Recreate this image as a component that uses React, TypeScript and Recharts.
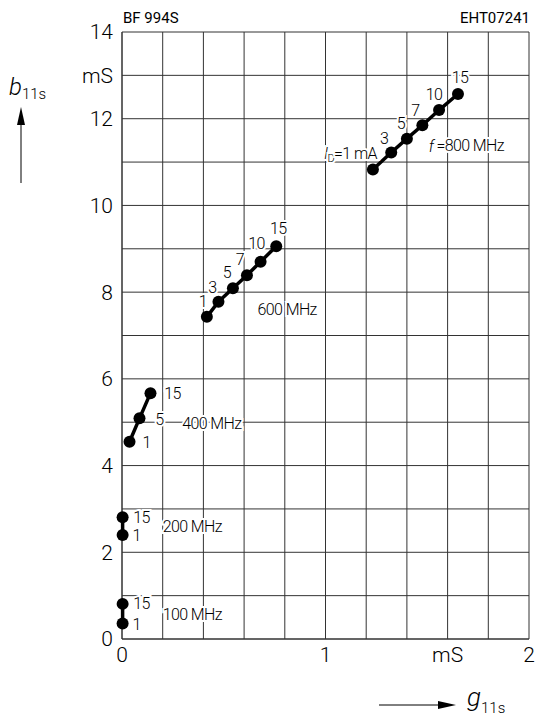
import React from 'react';
import { ScatterChart, Scatter, XAxis, YAxis, CartesianGrid } from 'recharts';

// g11s (mS) / b11s (mS), one set per frequency; ID labels in mA
const f100G = [0.003, 0.003];
const f100B = [0.36, 0.81];
const f100Id = ['1', '15'];

const f200G = [0.003, 0.003];
const f200B = [2.4, 2.81];
const f200Id = ['1', '15'];

const f400G = [0.037, 0.086, 0.14];
const f400B = [4.55, 5.09, 5.67];
const f400Id = ['1', '5', '15'];

const f600G = [0.417, 0.474, 0.545, 0.614, 0.681, 0.758];
const f600B = [7.43, 7.78, 8.09, 8.39, 8.7, 9.06];
const f600Id = ['1', '3', '5', '7', '10', '15'];

const f800G = [1.233, 1.323, 1.4, 1.476, 1.558, 1.651];
const f800B = [10.83, 11.22, 11.54, 11.85, 12.2, 12.57];
const f800Id = ['1', '3', '5', '7', '10', '15'];

// frequency captions, placed at (g, b)
const freqText = ['100 MHz', '200 MHz', '400 MHz', '600 MHz', '800 MHz'];
const freqG = [0.2, 0.2, 0.296, 0.666, 1.507];
const freqB = [0.56, 2.59, 4.97, 7.6, 11.38];

const xTicks = [0, 0.2, 0.4, 0.6, 0.8, 1, 1.2, 1.4, 1.6, 1.8, 2];
const yTicks = [0, 1, 2, 3, 4, 5, 6, 7, 8, 9, 10, 11, 12, 13, 14];

// label offsets (px) next to each point
const off100 = [[14, 1], [19, 0]];
const off200 = [[14, 1], [19, 0]];
const off400 = [[17, 1], [20, 1], [22, 0]];
const off600 = [[-4, -15], [-6, -14], [-6, -16], [-7, -16], [-4, -18], [2, -18]];
const off800 = [[-7, -14], [-7, -14], [-6, -15], [-7, -15], [-5, -16], [2, -17]];

const build = (g: number[], b: number[], id: string[]) =>
  g.map((v, i) => ({ g: v, b: b[i], id: id[i], i }));

const LABEL_FONT = 'Roboto, "Liberation Sans", sans-serif';
const TICK_FONT = 'Roboto, "Liberation Sans", sans-serif';

const halo = { stroke: '#fff', strokeWidth: 4, paintOrder: 'stroke' as const };
const labelText = { fontSize: 16, fontFamily: LABEL_FONT, fontWeight: 300, letterSpacing: -0.6, fill: '#000' };

const makeDot = (offsets: number[][], withId = false) => (props: any) => {
  const { cx, cy, payload } = props;
  const [dx, dy] = offsets[payload.i] || [0, 0];
  const first = withId && payload.i === 0;
  return (
    <g>
      <circle cx={cx} cy={cy} r={6} fill="#000" />
      {first ? (
        <text x={cx + 4} y={cy - 16} textAnchor="end" dominantBaseline="central" {...labelText} {...halo}>
          <tspan fontStyle="italic">I</tspan>
          <tspan fontSize={11} dy={5}>D</tspan>
          <tspan dy={-5}>=1 mA</tspan>
        </text>
      ) : (
        <text x={cx + dx} y={cy + dy} textAnchor="middle" dominantBaseline="central" {...labelText} {...halo}>
          {payload.id}
        </text>
      )}
    </g>
  );
};

const FreqLabel = (props: any) => {
  const { cx, cy, payload } = props;
  const is800 = payload.t === '800 MHz';
  return (
    <text x={cx} y={cy} dominantBaseline="central" {...labelText} {...halo}>
      {is800 && <tspan fontStyle="italic">f </tspan>}
      {is800 ? '=' + payload.t : payload.t}
    </text>
  );
};

const xFmt = (v: number) => (v === 0 ? '0' : v === 1 ? '1' : v === 1.6 ? 'mS' : v === 2 ? '2' : '');
const yFmt = (v: number) => (v === 13 ? 'mS' : v % 2 === 0 ? String(v) : '');

const lineStyle = { stroke: '#000', strokeWidth: 3.5 };

export default function App() {
  const freqData = freqText.map((t, i) => ({ g: freqG[i], b: freqB[i], t }));
  const tickStyle = { fontSize: 21, fontFamily: TICK_FONT, fontWeight: 300, fill: '#000' };

  return (
    <div style={{ position: 'relative', width: 538, height: 728, background: '#fff' }}>
      <style>{'body{margin:0}'}</style>
      <ScatterChart width={538} height={728} margin={{ top: 32, right: 9, left: 62, bottom: 59 }}>
        <CartesianGrid stroke="#333" strokeWidth={1} />
        <XAxis
          type="number"
          dataKey="g"
          domain={[0, 2]}
          ticks={xTicks}
          interval={0}
          tickFormatter={xFmt}
          tickLine={false}
          tickSize={0}
          tickMargin={8}
          height={30}
          axisLine={{ stroke: '#333' }}
          tick={tickStyle}
        />
        <YAxis
          type="number"
          dataKey="b"
          domain={[0, 14]}
          ticks={yTicks}
          interval={0}
          tickFormatter={yFmt}
          tickLine={false}
          tickSize={0}
          tickMargin={9}
          width={60}
          axisLine={{ stroke: '#333' }}
          tick={tickStyle}
        />
        <Scatter data={build(f100G, f100B, f100Id)} line={lineStyle} lineType="joint" shape={makeDot(off100)} isAnimationActive={false} />
        <Scatter data={build(f200G, f200B, f200Id)} line={lineStyle} lineType="joint" shape={makeDot(off200)} isAnimationActive={false} />
        <Scatter data={build(f400G, f400B, f400Id)} line={lineStyle} lineType="joint" shape={makeDot(off400)} isAnimationActive={false} />
        <Scatter data={build(f600G, f600B, f600Id)} line={lineStyle} lineType="joint" shape={makeDot(off600)} isAnimationActive={false} />
        <Scatter data={build(f800G, f800B, f800Id)} line={lineStyle} lineType="joint" shape={makeDot(off800, true)} isAnimationActive={false} />
        <Scatter data={freqData} shape={FreqLabel} isAnimationActive={false} />
      </ScatterChart>

      <svg width={538} height={728} style={{ position: 'absolute', left: 0, top: 0, pointerEvents: 'none' }}>
        <text x={123} y={18} dominantBaseline="central" fontSize={15} fontFamily={LABEL_FONT}>BF  994S</text>
        <text x={530} y={18} textAnchor="end" dominantBaseline="central" fontSize={15} fontFamily={LABEL_FONT}>EHT07241</text>

        {/* y axis name with arrow */}
        <text x={9} y={95} fontSize={24} fontFamily={TICK_FONT} fontWeight={300}>
          <tspan fontStyle="italic">b</tspan>
          <tspan fontSize={15} dy={4}>11s</tspan>
        </text>
        <line x1={21} y1={183} x2={21} y2={120} stroke="#000" strokeWidth={1} />
        <polygon points="21,107 17,125 25,125" fill="#000" />

        {/* x axis name with arrow */}
        <line x1={379} y1={705} x2={442} y2={705} stroke="#000" strokeWidth={1} />
        <polygon points="456,705 438,701 438,709" fill="#000" />
        <text x={467} y={706} fontSize={26} fontFamily={TICK_FONT} fontWeight={300}>
          <tspan fontStyle="italic">g</tspan>
          <tspan fontSize={15} dy={7}>11s</tspan>
        </text>
      </svg>
    </div>
  );
}
